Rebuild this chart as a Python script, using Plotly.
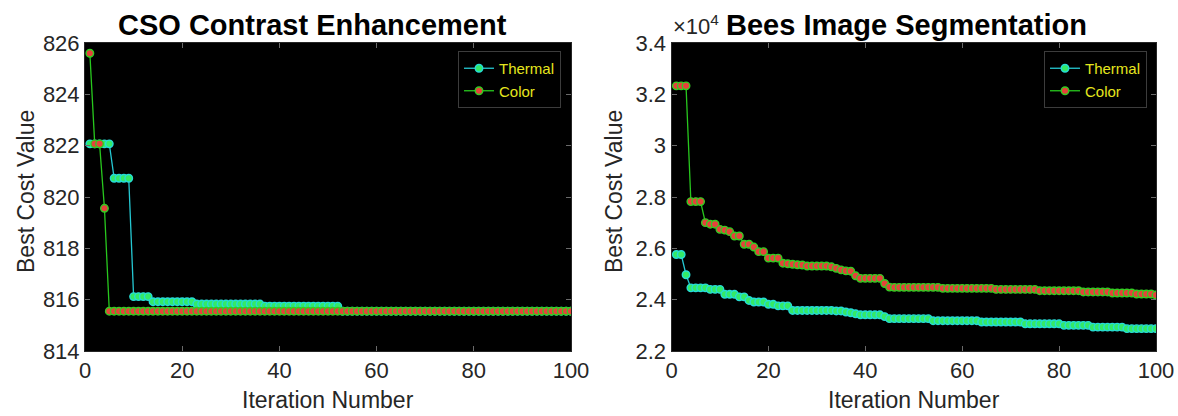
import plotly.graph_objects as go

# ---------------- data ----------------
iterations = list(range(1, 101))

# CSO contrast enhancement: best cost per iteration
cso_thermal = [
    822.07, 822.07, 822.07, 822.07, 822.07, 820.73, 820.73, 820.73, 820.73, 816.12,
    816.12, 816.12, 816.12, 815.92, 815.92, 815.92, 815.92, 815.92, 815.92, 815.92,
    815.92, 815.92, 815.83, 815.83, 815.83, 815.83, 815.83, 815.83, 815.83, 815.83,
    815.83, 815.83, 815.83, 815.83, 815.83, 815.83, 815.75, 815.75, 815.75, 815.75,
    815.75, 815.75, 815.75, 815.75, 815.75, 815.75, 815.75, 815.75, 815.75, 815.75,
    815.75, 815.75, 815.55, 815.55, 815.55, 815.55, 815.55, 815.55, 815.55, 815.55,
    815.55, 815.55, 815.55, 815.55, 815.55, 815.55, 815.55, 815.55, 815.55, 815.55,
    815.55, 815.55, 815.55, 815.55, 815.55, 815.55, 815.55, 815.55, 815.55, 815.55,
    815.55, 815.55, 815.55, 815.55, 815.55, 815.55, 815.55, 815.55, 815.55, 815.55,
    815.55, 815.55, 815.55, 815.55, 815.55, 815.55, 815.55, 815.55, 815.55, 815.55,
]
cso_color = [
    825.60, 822.07, 822.07, 819.56, 815.55, 815.55, 815.55, 815.55, 815.55, 815.55,
    815.55, 815.55, 815.55, 815.55, 815.55, 815.55, 815.55, 815.55, 815.55, 815.55,
    815.55, 815.55, 815.55, 815.55, 815.55, 815.55, 815.55, 815.55, 815.55, 815.55,
    815.55, 815.55, 815.55, 815.55, 815.55, 815.55, 815.55, 815.55, 815.55, 815.55,
    815.55, 815.55, 815.55, 815.55, 815.55, 815.55, 815.55, 815.55, 815.55, 815.55,
    815.55, 815.55, 815.55, 815.55, 815.55, 815.55, 815.55, 815.55, 815.55, 815.55,
    815.55, 815.55, 815.55, 815.55, 815.55, 815.55, 815.55, 815.55, 815.55, 815.55,
    815.55, 815.55, 815.55, 815.55, 815.55, 815.55, 815.55, 815.55, 815.55, 815.55,
    815.55, 815.55, 815.55, 815.55, 815.55, 815.55, 815.55, 815.55, 815.55, 815.55,
    815.55, 815.55, 815.55, 815.55, 815.55, 815.55, 815.55, 815.55, 815.55, 815.55,
]

# Bees image segmentation: best cost per iteration
bees_thermal = [
    25760, 25760, 24970, 24460, 24460, 24460, 24460, 24400, 24400, 24400,
    24210, 24210, 24210, 24110, 24110, 23970, 23910, 23910, 23910, 23820,
    23820, 23760, 23760, 23760, 23580, 23580, 23580, 23580, 23580, 23580,
    23580, 23580, 23580, 23560, 23560, 23520, 23490, 23450, 23410, 23410,
    23410, 23410, 23410, 23340, 23260, 23260, 23260, 23260, 23260, 23260,
    23260, 23260, 23260, 23180, 23180, 23180, 23180, 23180, 23180, 23180,
    23180, 23180, 23180, 23130, 23130, 23130, 23130, 23130, 23130, 23130,
    23130, 23130, 23060, 23060, 23060, 23060, 23060, 23060, 23060, 23060,
    23000, 23000, 23000, 23000, 23000, 23000, 22930, 22930, 22930, 22930,
    22930, 22930, 22930, 22870, 22870, 22870, 22870, 22870, 22870, 22870,
]
bees_color = [
    32330, 32330, 32330, 27820, 27820, 27820, 27000, 26940, 26940, 26740,
    26710, 26650, 26480, 26480, 26160, 26160, 26050, 25870, 25870, 25620,
    25620, 25620, 25420, 25400, 25380, 25360, 25350, 25310, 25310, 25310,
    25310, 25310, 25280, 25220, 25160, 25120, 25110, 24930, 24830, 24830,
    24830, 24830, 24830, 24630, 24490, 24480, 24480, 24480, 24480, 24480,
    24480, 24480, 24480, 24480, 24480, 24440, 24440, 24440, 24440, 24440,
    24440, 24440, 24440, 24440, 24440, 24440, 24400, 24400, 24400, 24400,
    24400, 24400, 24400, 24400, 24400, 24350, 24350, 24350, 24350, 24350,
    24350, 24350, 24350, 24350, 24300, 24300, 24300, 24300, 24300, 24300,
    24260, 24260, 24260, 24260, 24260, 24220, 24220, 24220, 24220, 24180,
]

x_ticks = [0, 20, 40, 60, 80, 100]
cso_ticks = [814, 816, 818, 820, 822, 824, 826]
bees_ticks = [22000, 24000, 26000, 28000, 30000, 32000, 34000]
bees_tick_text = ["2.2", "2.4", "2.6", "2.8", "3", "3.2", "3.4"]

series_names = ["Thermal", "Color"]

# ---------------- styles ----------------
W, H = 1178, 416
FONT = "Liberation Sans, Arial, Helvetica, sans-serif"
TXT = "#262626"

thermal_style = dict(
    line=dict(color="#25c8d2", width=1.3),
    marker=dict(size=7.5, color="#33ea66", line=dict(color="#26dcd6", width=1.4)),
)
color_style = dict(
    line=dict(color="#28c81e", width=1.3),
    marker=dict(size=7.5, color="#e5433a", line=dict(color="#33cc22", width=1.4)),
)

fig = go.Figure()

fig.add_trace(go.Scatter(x=iterations, y=cso_thermal, mode="lines+markers",
                         name=series_names[0], xaxis="x", yaxis="y",
                         legend="legend", **thermal_style))
fig.add_trace(go.Scatter(x=iterations, y=cso_color, mode="lines+markers",
                         name=series_names[1], xaxis="x", yaxis="y",
                         legend="legend", **color_style))
fig.add_trace(go.Scatter(x=iterations, y=bees_thermal, mode="lines+markers",
                         name=series_names[0], xaxis="x2", yaxis="y2",
                         legend="legend2", **thermal_style))
fig.add_trace(go.Scatter(x=iterations, y=bees_color, mode="lines+markers",
                         name=series_names[1], xaxis="x2", yaxis="y2",
                         legend="legend2", **color_style))

# plot-area geometry in pixels
L1, R1 = 85, 571
L2, R2 = 671.5, 1156
TOP, BOT = 43, 351


def px_x(p):
    return p / W


def px_y(p):
    return 1 - p / H


axis_common = dict(
    showgrid=False, zeroline=False, showline=True, linecolor="#262626",
    linewidth=1, mirror="ticks", ticks="inside", ticklen=5,
    tickcolor="#6a6a6a", tickwidth=1,
    tickfont=dict(family=FONT, size=22, color=TXT),
)

fig.update_layout(
    width=W, height=H,
    margin=dict(l=0, r=0, t=0, b=0),
    paper_bgcolor="white",
    plot_bgcolor="black",
    showlegend=True,
    xaxis=dict(domain=[px_x(L1), px_x(R1)], range=[0, 100], tickvals=x_ticks,
               anchor="y", automargin=False, **axis_common),
    yaxis=dict(domain=[px_y(BOT), px_y(TOP)], range=[814, 826], tickvals=cso_ticks,
               anchor="x", automargin=False, **axis_common),
    xaxis2=dict(domain=[px_x(L2), px_x(R2)], range=[0, 100], tickvals=x_ticks,
                anchor="y2", automargin=False, **axis_common),
    yaxis2=dict(domain=[px_y(BOT), px_y(TOP)], range=[22000, 34000],
                tickvals=bees_ticks, ticktext=bees_tick_text,
                anchor="x2", automargin=False, **axis_common),
)

legend_common = dict(
    bgcolor="black", bordercolor="#3c3c3c", borderwidth=1,
    font=dict(family=FONT, size=15, color="#e6e61e"),
    xanchor="right", yanchor="top", tracegroupgap=0, itemwidth=30,
)
fig.update_layout(
    legend=dict(x=px_x(R1 - 10), y=px_y(TOP + 8), **legend_common),
    legend2=dict(x=px_x(R2 - 9), y=px_y(TOP + 8), **legend_common),
)

annotations = [
    # plot titles
    dict(text="<b>CSO Contrast Enhancement</b>", x=px_x(312), y=px_y(25),
         font=dict(family=FONT, size=29, color="black")),
    dict(text="<b>Bees Image Segmentation</b>", x=px_x(906), y=px_y(25),
         font=dict(family=FONT, size=29, color="black")),
    # x-axis titles
    dict(text="Iteration Number", x=px_x((L1 + R1) / 2), y=px_y(400),
         font=dict(family=FONT, size=23, color=TXT)),
    dict(text="Iteration Number", x=px_x((L2 + R2) / 2), y=px_y(400),
         font=dict(family=FONT, size=23, color=TXT)),
    # y-axis titles
    dict(text="Best Cost Value", x=px_x(26), y=px_y(192), textangle=-90,
         font=dict(family=FONT, size=23, color=TXT)),
    dict(text="Best Cost Value", x=px_x(614), y=px_y(192), textangle=-90,
         font=dict(family=FONT, size=23, color=TXT)),
    # exponent for the right-hand y axis
    dict(text="\u00d710<sup>4</sup>", x=px_x(L2 - 1), y=px_y(TOP - 2),
         xanchor="left", yanchor="bottom",
         font=dict(family=FONT, size=22, color=TXT)),
]
for a in annotations:
    a.setdefault("xanchor", "center")
    a.setdefault("yanchor", "middle")
    fig.add_annotation(xref="paper", yref="paper", showarrow=False, **a)

fig.write_html("out.html")
